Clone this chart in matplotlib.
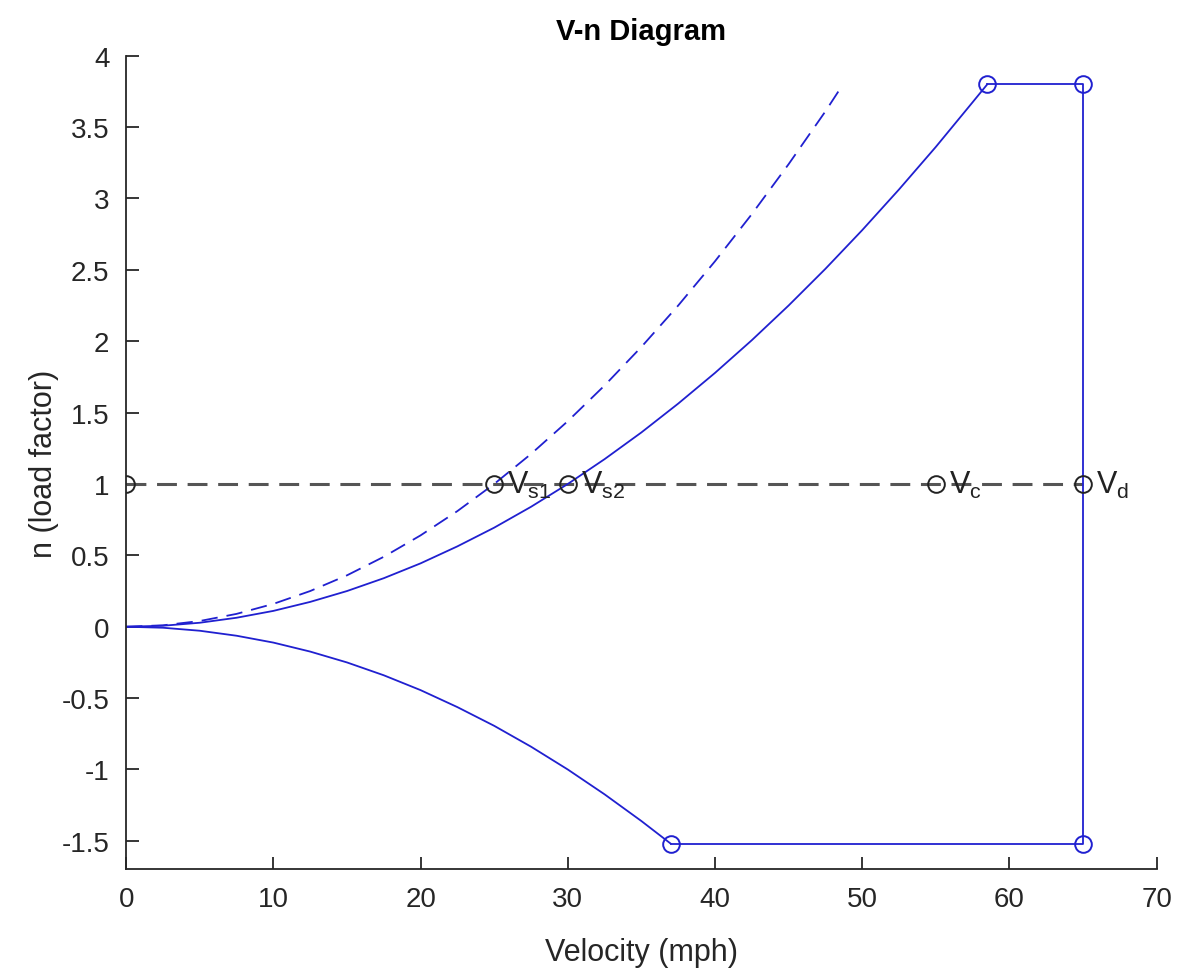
import matplotlib.pyplot as plt

plt.rcParams['font.family'] = ['Liberation Sans', 'DejaVu Sans']
plt.rcParams['mathtext.fontset'] = 'custom'
plt.rcParams['mathtext.rm'] = 'Liberation Sans'

# positive stall curve (flaps up)
v_pos = [0, 2.5, 5, 7.5, 10, 12.5, 15, 17.5, 20, 22.5, 25, 27.5, 30, 32.5, 35,
         37.5, 40, 42.5, 45, 47.5, 50, 52.5, 55, 57.5, 58.5]
n_pos = [0, 0.007, 0.028, 0.063, 0.111, 0.174, 0.25, 0.34, 0.444, 0.563, 0.694,
         0.84, 1.0, 1.174, 1.361, 1.563, 1.778, 2.007, 2.25, 2.507, 2.778, 3.063,
         3.361, 3.674, 3.8]

# dashed curve (flaps down)
v_flap = [0, 2.5, 5, 7.5, 10, 12.5, 15, 17.5, 20, 22.5, 25, 27.5, 30, 32.5, 35,
          37.5, 40, 42.5, 45, 47.5, 48.7]
n_flap = [0, 0.01, 0.04, 0.09, 0.16, 0.25, 0.36, 0.49, 0.64, 0.81, 1.0, 1.21,
          1.44, 1.69, 1.96, 2.25, 2.56, 2.89, 3.24, 3.61, 3.8]

# negative stall curve
v_neg = [0, 2.5, 5, 7.5, 10, 12.5, 15, 17.5, 20, 22.5, 25, 27.5, 30, 32.5, 35, 37]
n_neg = [0, -0.007, -0.028, -0.063, -0.111, -0.174, -0.25, -0.34, -0.444,
         -0.563, -0.694, -0.84, -1.0, -1.174, -1.361, -1.52]

# envelope corners
v_corner = [58.5, 65, 65, 37]
n_corner = [3.8, 3.8, -1.52, -1.52]

# reference speeds on n = 1
v_ref = [0, 25, 30, 55, 65]
ref_labels = ['', r'$\mathregular{V_{s1}}$', r'$\mathregular{V_{s2}}$',
              r'$\mathregular{V_c}$', r'$\mathregular{V_d}$']

fig = plt.figure(figsize=(11.79, 9.78), dpi=100)
ax = fig.add_axes([0.107, 0.110, 0.874, 0.832])

blue = '#2020d0'
ax.plot([0, 65], [1, 1], '--', color='#555555', lw=2.2, dashes=(6.5, 3.5))
ax.plot(v_pos, n_pos, '-', color=blue, lw=1.3)
ax.plot(v_flap, n_flap, '--', color=blue, lw=1.3, dashes=(9, 5))
ax.plot(v_neg, n_neg, '-', color=blue, lw=1.3)
ax.plot(v_corner, n_corner, '-', color=blue, lw=1.3)
ax.plot(v_corner, n_corner, 'o', mfc='none', mec=blue, ms=12, mew=1.4)
ax.plot(v_ref, [1] * len(v_ref), 'o', mfc='none', mec='#222222', ms=12, mew=1.4)

for v, lab in zip(v_ref, ref_labels):
    if lab:
        ax.text(v + 0.9, 1.0, lab, fontsize=22, color='#222222', ha='left', va='center')

ax.set_xlim(0, 70)
ax.set_ylim(-1.7, 4)
ax.set_xticks(range(0, 71, 10))
ax.set_yticks([-1.5, -1, -0.5, 0, 0.5, 1, 1.5, 2, 2.5, 3, 3.5, 4])
ax.set_yticklabels(['-1.5', '-1', '-0.5', '0', '0.5', '1', '1.5', '2', '2.5', '3', '3.5', '4'])
ax.spines['top'].set_visible(False)
ax.spines['right'].set_visible(False)
for s in ['left', 'bottom']:
    ax.spines[s].set_color('#262626')
    ax.spines[s].set_linewidth(1.3)
ax.tick_params(direction='in', length=9, width=1.3, colors='#262626', labelsize=20, pad=12)

ax.set_xlabel('Velocity (mph)', fontsize=22, color='#262626', labelpad=18)
ax.set_ylabel('n (load factor)', fontsize=22, color='#262626', labelpad=2)
ax.set_title('V-n Diagram', fontsize=21, fontweight='bold', pad=12)

fig.savefig('out.png', dpi=100)
